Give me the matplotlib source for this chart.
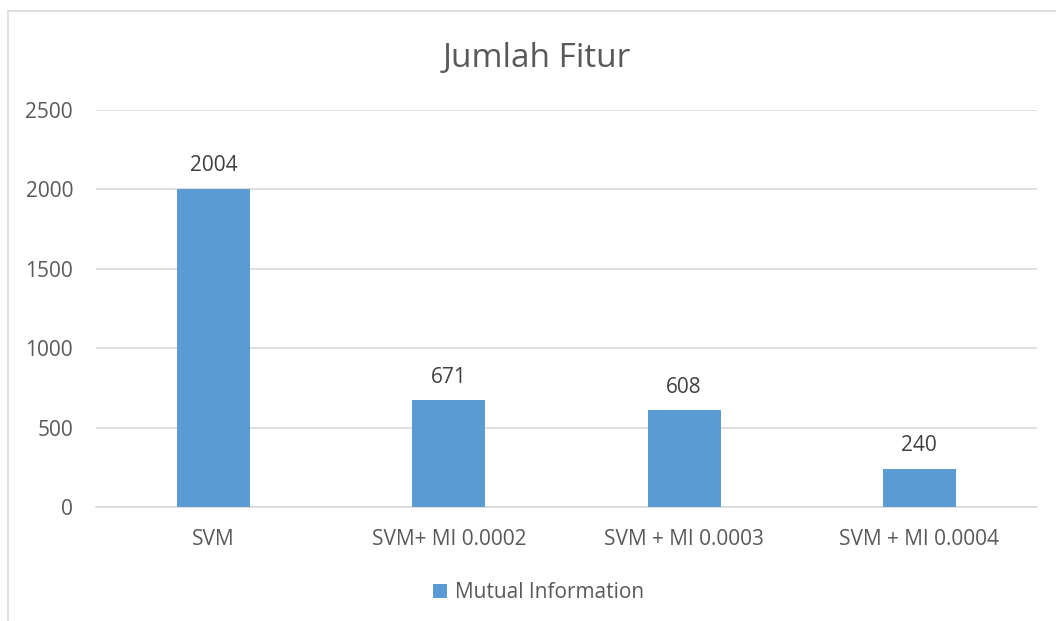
import matplotlib.pyplot as plt
from matplotlib.patches import Rectangle

categories = ["SVM", "SVM+ MI 0.0002", "SVM + MI 0.0003", "SVM + MI 0.0004"]
jumlah_fitur = [2004, 671, 608, 240]
yticks = [0, 500, 1000, 1500, 2000, 2500]

BAR = "#5B9BD5"
TXT = "#595959"
GRID = "#D9D9D9"

plt.rcParams["font.family"] = ["Open Sans", "DejaVu Sans"]

fig = plt.figure(figsize=(10.56, 6.21), dpi=100)
ax = fig.add_axes([0.0909, 0.1836, 0.8911, 0.6393])

# chart border (runs off the right and bottom edges)
fig.patches.append(Rectangle((8 / 1056, -0.05), 1.1, 1 - 11 / 621 + 0.05,
                             transform=fig.transFigure, fill=False,
                             edgecolor=GRID, linewidth=1.2))

x = range(len(categories))
bars = ax.bar(x, jumlah_fitur, width=0.31, color=BAR, label="Mutual Information", zorder=3)
for b, v in zip(bars, jumlah_fitur):
    ax.annotate(str(v), (b.get_x() + b.get_width() / 2, v), xytext=(0, 9),
                textcoords="offset points", ha="center", va="bottom",
                fontsize=15, color="#404040")

ax.set_xlim(-0.5, 3.5)
ax.set_ylim(0, 2500)
ax.set_yticks(yticks)
ax.set_xticks(list(x))
ax.set_xticklabels(categories)
ax.tick_params(axis="both", length=0, labelsize=15, labelcolor=TXT)
ax.tick_params(axis="y", pad=16.5)
ax.tick_params(axis="x", pad=16)
ax.grid(axis="y", color=GRID, linewidth=1.2, zorder=0)
for s in ["top", "right", "left"]:
    ax.spines[s].set_visible(False)
ax.spines["bottom"].set_color(GRID)
ax.spines["bottom"].set_linewidth(1.2)

fig.text(0.508, 0.905, "Jumlah Fitur", ha="center", va="center", fontsize=24, color=TXT)

leg = fig.legend(loc="center", bbox_to_anchor=(0.51, 0.046), frameon=False,
                 fontsize=15, handlelength=0.65, handleheight=0.65, handletextpad=0.4)
for t in leg.get_texts():
    t.set_color(TXT)

fig.savefig("out.png", dpi=100)
